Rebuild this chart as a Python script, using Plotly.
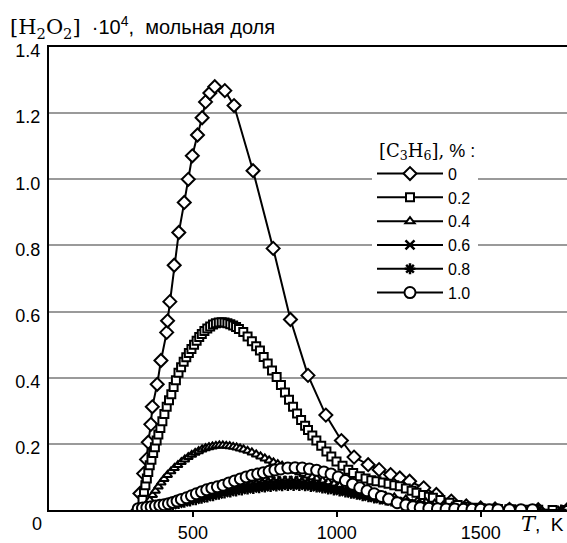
import plotly.graph_objects as go

# ---------------- data ----------------
series_names = ["0", "0.2", "0.4", "0.6", "0.8", "1.0"]

T_c0 = [310, 316, 329, 339, 345, 354, 359, 376, 389, 409, 412, 420, 435, 451, 470, 484, 498, 516, 532,
        544, 559, 576, 611, 643, 709, 779, 839, 900, 962, 1016, 1060, 1109, 1147, 1187, 1219, 1253,
        1302, 1346, 1398, 1450, 1500, 1550, 1600, 1700, 1800]
Y_c0 = [0.0, 0.05, 0.11, 0.153, 0.205, 0.259, 0.312, 0.38, 0.452, 0.537, 0.572, 0.63, 0.74, 0.839,
        0.93, 1.0, 1.071, 1.134, 1.186, 1.234, 1.261, 1.28, 1.268, 1.223, 1.026, 0.791, 0.576, 0.407,
        0.287, 0.21, 0.16, 0.137, 0.122, 0.107, 0.097, 0.087, 0.067, 0.047, 0.027, 0.012, 0.006,
        0.003, 0.002, 0.001, 0.0]

T_c02 = [320, 325, 330, 335, 340, 345, 350, 356, 362, 368, 374, 380, 387, 394, 401, 409, 417, 425, 433,
         441, 450, 459, 468, 477, 486, 495, 504, 513, 522, 531, 540, 550, 560, 570, 580, 590, 600, 610,
         620, 630, 640, 650, 660, 675, 690, 705, 720, 733, 746, 760, 775, 791, 806, 820, 834, 848, 862,
         876, 890, 900, 915, 929, 946, 964, 981, 999, 1020, 1040, 1057, 1080, 1100, 1120, 1138, 1160,
         1180, 1200, 1219, 1240, 1260, 1277, 1300, 1320, 1334, 1360, 1392, 1420, 1450, 1473, 1500,
         1530, 1560, 1600, 1650, 1700, 1750, 1800]
Y_c02 = [0.005, 0.03, 0.055, 0.075, 0.095, 0.115, 0.135, 0.152, 0.172, 0.19, 0.21, 0.228, 0.248, 0.268,
         0.29, 0.312, 0.332, 0.35, 0.372, 0.392, 0.415, 0.432, 0.448, 0.462, 0.475, 0.487, 0.5, 0.512,
         0.523, 0.532, 0.541, 0.549, 0.555, 0.561, 0.565, 0.567, 0.568, 0.567, 0.565, 0.562, 0.558,
         0.553, 0.547, 0.538, 0.525, 0.51, 0.495, 0.482, 0.463, 0.443, 0.422, 0.402, 0.378, 0.355,
         0.333, 0.312, 0.292, 0.272, 0.255, 0.242, 0.225, 0.21, 0.194, 0.177, 0.162, 0.147, 0.134,
         0.122, 0.112, 0.102, 0.095, 0.09, 0.087, 0.083, 0.079, 0.075, 0.072, 0.065, 0.058, 0.052,
         0.045, 0.04, 0.037, 0.03, 0.022, 0.015, 0.01, 0.007, 0.005, 0.004, 0.003, 0.002, 0.001,
         0.001, 0.0, 0.0]

T_c04 = [330, 340, 350, 360, 370, 380, 390, 400, 412, 424, 436, 448, 460, 472, 484, 496, 508, 520, 532,
         544, 556, 568, 580, 592, 604, 616, 628, 640, 652, 664, 676, 690, 705, 720, 735, 750, 765, 780,
         795, 810, 825, 840, 855, 870, 885, 900, 915, 930, 950, 970, 990, 1010, 1030, 1050, 1070, 1090,
         1110, 1130, 1150, 1170, 1200, 1240, 1280, 1310, 1340, 1370, 1400, 1450, 1500, 1560, 1620]
Y_c04 = [0.0, 0.015, 0.03, 0.045, 0.058, 0.071, 0.083, 0.094, 0.106, 0.117, 0.127, 0.136, 0.145, 0.153,
         0.16, 0.167, 0.173, 0.178, 0.183, 0.187, 0.19, 0.192, 0.194, 0.195, 0.195, 0.194, 0.193,
         0.191, 0.189, 0.186, 0.183, 0.179, 0.174, 0.168, 0.162, 0.156, 0.15, 0.144, 0.139, 0.134,
         0.129, 0.124, 0.119, 0.114, 0.109, 0.104, 0.099, 0.095, 0.089, 0.084, 0.079, 0.074, 0.069,
         0.065, 0.061, 0.057, 0.053, 0.049, 0.045, 0.042, 0.038, 0.032, 0.027, 0.023, 0.019, 0.014,
         0.01, 0.006, 0.004, 0.002, 0.001]

T_c06 = [330, 350, 370, 390, 410, 430, 450, 470, 490, 510, 530, 550, 570, 590, 610, 630, 650, 670, 690,
         710, 730, 750, 770, 790, 810, 830, 850, 870, 890, 910, 930, 950, 970, 990, 1010, 1030, 1050,
         1070, 1090, 1110, 1130, 1150, 1170, 1190, 1210, 1230, 1250, 1270, 1290, 1320, 1350, 1380,
         1420, 1460, 1500]
Y_c06 = [0.0, 0.004, 0.008, 0.012, 0.016, 0.02, 0.025, 0.03, 0.035, 0.04, 0.045, 0.05, 0.055, 0.06,
         0.064, 0.068, 0.072, 0.075, 0.078, 0.081, 0.083, 0.085, 0.087, 0.088, 0.089, 0.089, 0.089,
         0.088, 0.086, 0.083, 0.08, 0.076, 0.072, 0.068, 0.064, 0.06, 0.056, 0.052, 0.048, 0.044,
         0.04, 0.036, 0.032, 0.028, 0.025, 0.022, 0.019, 0.016, 0.013, 0.01, 0.007, 0.005, 0.003,
         0.002, 0.001]

T_c08 = [330, 350, 370, 390, 410, 430, 450, 470, 490, 510, 530, 550, 570, 590, 610, 630, 650, 670, 690,
         710, 730, 750, 770, 790, 810, 830, 850, 870, 890, 910, 930, 950, 970, 990, 1010, 1030, 1050,
         1070, 1090, 1110, 1130, 1150, 1170, 1190, 1210, 1230, 1250, 1270, 1290, 1320, 1350, 1380,
         1420, 1460, 1500, 1560, 1620, 1700, 1780]
Y_c08 = [0.0, 0.003, 0.006, 0.009, 0.012, 0.015, 0.019, 0.023, 0.027, 0.031, 0.035, 0.039, 0.043,
         0.047, 0.051, 0.054, 0.057, 0.06, 0.063, 0.065, 0.067, 0.069, 0.071, 0.072, 0.073, 0.074,
         0.074, 0.074, 0.073, 0.071, 0.069, 0.066, 0.063, 0.06, 0.057, 0.054, 0.05, 0.047, 0.043,
         0.04, 0.036, 0.033, 0.03, 0.027, 0.024, 0.021, 0.018, 0.015, 0.013, 0.01, 0.007, 0.005,
         0.003, 0.002, 0.001, 0.001, 0.0, 0.0, 0.0]

T_c10 = [310, 325, 340, 355, 370, 385, 400, 415, 430, 445, 460, 478, 495, 512, 530, 548, 566, 585, 605,
         625, 645, 665, 685, 705, 725, 745, 765, 785, 805, 830, 855, 880, 905, 930, 955, 980, 1005,
         1030, 1055, 1080, 1105, 1130, 1155, 1180, 1210, 1240, 1265, 1290, 1320, 1350, 1380, 1410,
         1440, 1470, 1500, 1530, 1560, 1600, 1640, 1680]
Y_c10 = [0.004, 0.006, 0.008, 0.01, 0.012, 0.014, 0.016, 0.019, 0.023, 0.027, 0.032, 0.037, 0.043,
         0.049, 0.055, 0.061, 0.066, 0.07, 0.075, 0.082, 0.088, 0.094, 0.1, 0.105, 0.109, 0.113,
         0.117, 0.121, 0.124, 0.127, 0.128, 0.127, 0.124, 0.12, 0.115, 0.109, 0.1, 0.089, 0.078,
         0.067, 0.058, 0.049, 0.041, 0.033, 0.022, 0.015, 0.01, 0.007, 0.005, 0.004, 0.003, 0.003,
         0.002, 0.002, 0.002, 0.001, 0.001, 0.001, 0.001, 0.001]

x_tick_vals = [500, 1000, 1500]
x_tick_text = ["500", "1000", "1500"]
y_tick_vals = [0.2, 0.4, 0.6, 0.8, 1.0, 1.2, 1.4]
y_tick_text = ["0.2", "0.4", "0.6", "0.8", "1.0", "1.2", "1.4"]

# ---------------- styling ----------------
SANS = "Liberation Sans, Arial, sans-serif"

styles = [
    dict(symbol="diamond", size=10, fill="white", lw=2),
    dict(symbol="square", size=8, fill="white", lw=2),
    dict(symbol="triangle-up", size=8, fill="white", lw=2),
    dict(symbol="x-thin", size=9, fill="black", lw=2.5),
    dict(symbol="asterisk", size=9, fill="black", lw=2.5),
    dict(symbol="circle", size=11, fill="white", lw=2),
]

data = [(T_c0, Y_c0), (T_c02, Y_c02), (T_c04, Y_c04), (T_c06, Y_c06), (T_c08, Y_c08), (T_c10, Y_c10)]

fig = go.Figure()
for name, (xs, ys), st in zip(series_names, data, styles):
    fig.add_trace(go.Scatter(
        x=xs, y=ys, name=name, mode="lines+markers",
        line=dict(color="black", width=2),
        marker=dict(symbol=st["symbol"], size=st["size"], color=st["fill"],
                    line=dict(color="black", width=st["lw"])),
    ))

fig.update_layout(
    width=567, height=543,
    margin=dict(l=49, r=0, t=47, b=29),
    paper_bgcolor="white", plot_bgcolor="white",
    font=dict(family=SANS, size=18, color="black"),
    showlegend=True,
    legend=dict(
        x=(372 - 49) / 518, y=(514 - 134) / 467, xanchor="left", yanchor="top",
        bgcolor="white", borderwidth=0,
        font=dict(family=SANS, size=16),
        itemwidth=66,
        title=dict(text="&nbsp;<span style='font-family:DejaVu Serif'>[C<sub>3</sub>H<sub>6</sub>],</span> % :",
                   font=dict(family=SANS, size=18)),
    ),
    xaxis=dict(
        range=[0, 1800], showgrid=False, zeroline=False,
        showline=True, linecolor="black", linewidth=2, mirror=True,
        ticks="outside", ticklen=5, tickwidth=1.5, tickcolor="black",
        tickvals=x_tick_vals, ticktext=x_tick_text,
        tickfont=dict(family=SANS, size=18),
    ),
    yaxis=dict(
        range=[0, 1.4], showgrid=True, gridcolor="#9a9a9a", gridwidth=1.5,
        zeroline=False, showline=True, linecolor="black", linewidth=2, mirror=False,
        ticks="", tickvals=y_tick_vals, ticktext=y_tick_text,
        tickfont=dict(family=SANS, size=18), ticklabelstandoff=3, ticklabelshift=4,
    ),
)

fig.add_annotation(
    xref="paper", yref="paper", x=(8 - 49) / 518, y=(514 - 27) / 467, xanchor="left", yanchor="middle",
    showarrow=False, align="left",
    text="<span style='font-family:DejaVu Serif;font-size:21px'>[H<sub>2</sub>O<sub>2</sub>]</span>&nbsp; ·10<sup>4</sup>,&nbsp; мольная доля",
    font=dict(family=SANS, size=20),
)
fig.add_annotation(
    xref="paper", yref="paper", x=(37 - 49) / 518, y=-14 / 467, xanchor="center", yanchor="middle",
    showarrow=False, text="0", font=dict(family=SANS, size=18),
)
fig.add_annotation(
    xref="paper", yref="paper", x=(566 - 49) / 518, y=-14 / 467, xanchor="right", yanchor="middle",
    showarrow=False,
    text="<span style='font-family:DejaVu Serif;font-size:21px'><i>T</i></span>,&nbsp; K",
    font=dict(family=SANS, size=19),
)

fig.write_html("out.html")
